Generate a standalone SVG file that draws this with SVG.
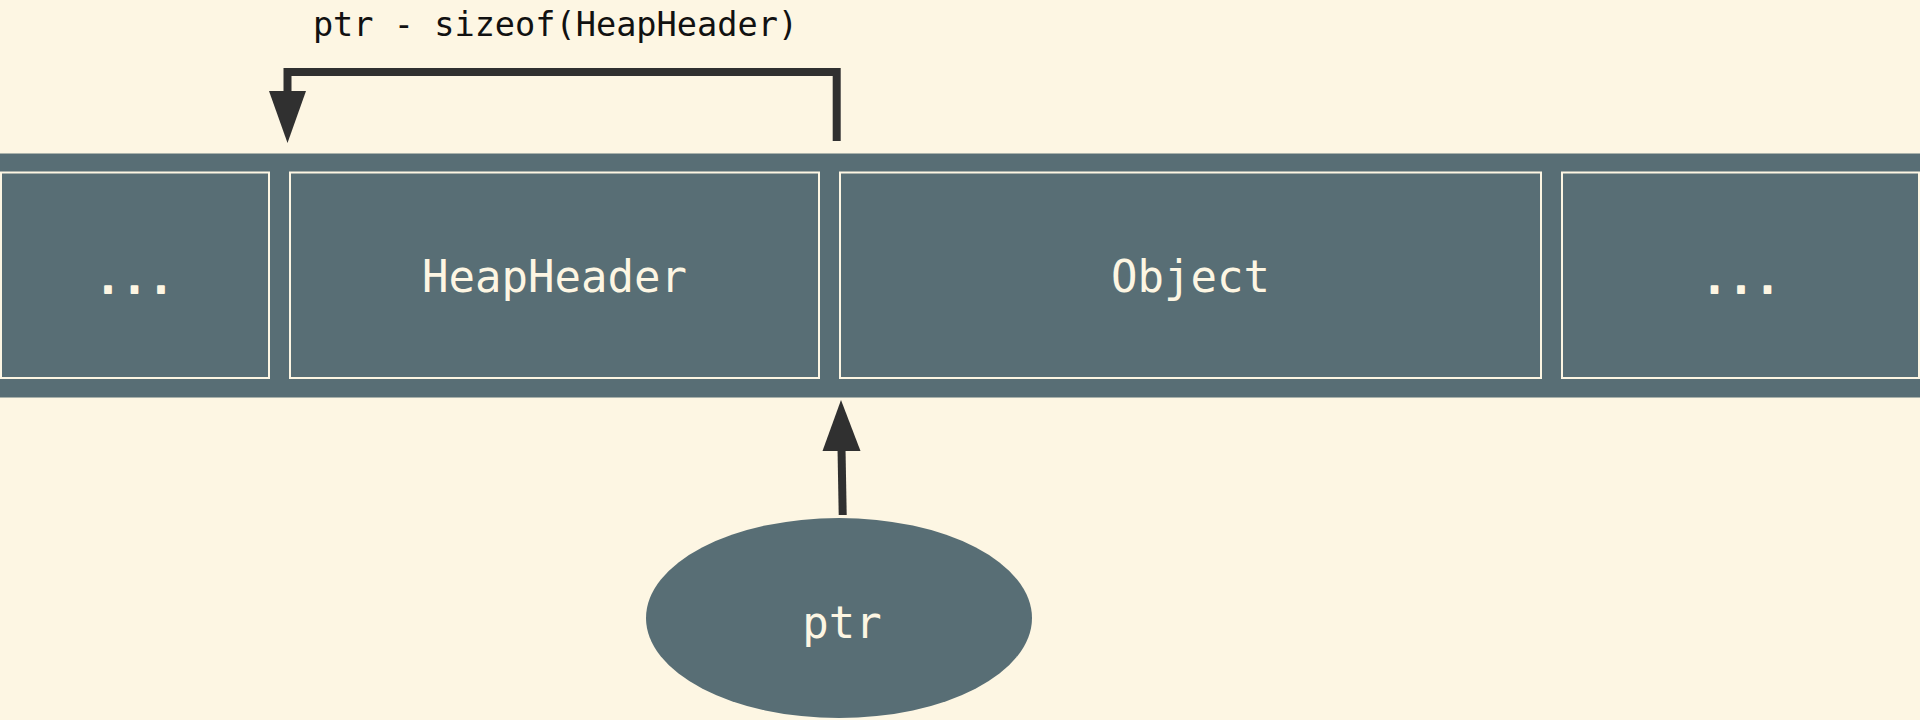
<svg xmlns="http://www.w3.org/2000/svg" width="1920" height="720" viewBox="0 0 1920 720">
<style>
.box{fill:#586e75;stroke:#fdf6e3;stroke-width:2}
.lbl{font-family:"DejaVu Sans Mono","Liberation Mono",monospace;font-size:44px;fill:#fdf6e3;text-anchor:middle}
.dots{stroke:#fdf6e3;stroke-width:2.2;stroke-linejoin:round}
.cap{font-family:"DejaVu Sans Mono","Liberation Mono",monospace;font-size:33.6px;fill:#111;text-anchor:middle}
.edge{fill:none;stroke:#303030;stroke-width:8}
.head{fill:#303030}
</style>
<rect width="1920" height="720" fill="#fdf6e3"/>
<g id="memory">
<rect x="0" y="153.5" width="1920" height="244" fill="#586e75"/>
</g>
<g id="node-dots-left">
<rect class="box" x="1" y="172.5" width="268" height="205.5"/>
<text class="lbl dots" x="134.5" y="293">...</text>
</g>
<g id="node-heapheader">
<rect class="box" x="290" y="172.5" width="529" height="205.5"/>
<text class="lbl" x="554.5" y="292">HeapHeader</text>
</g>
<g id="node-object">
<rect class="box" x="840" y="172.5" width="701" height="205.5"/>
<text class="lbl" x="1190.5" y="292">Object</text>
</g>
<g id="node-dots-right">
<rect class="box" x="1562" y="172.5" width="357" height="205.5"/>
<text class="lbl dots" x="1741" y="293">...</text>
</g>
<g id="node-ptr">
<ellipse cx="839" cy="618" rx="193" ry="100" fill="#586e75"/>
<text class="lbl" x="842" y="638">ptr</text>
</g>
<g id="connectors">
<polyline class="edge" points="836.7,141 836.7,72 287.5,72 287.5,92"/>
<polygon class="head" points="269,91 306,91 287.5,143"/>
<text class="cap" x="555.5" y="36">ptr - sizeof(HeapHeader)</text>
<line class="edge" x1="842.7" y1="515" x2="841.5" y2="448"/>
<polygon class="head" points="822.5,451 860.5,451 841,400"/>
</g>
</svg>
